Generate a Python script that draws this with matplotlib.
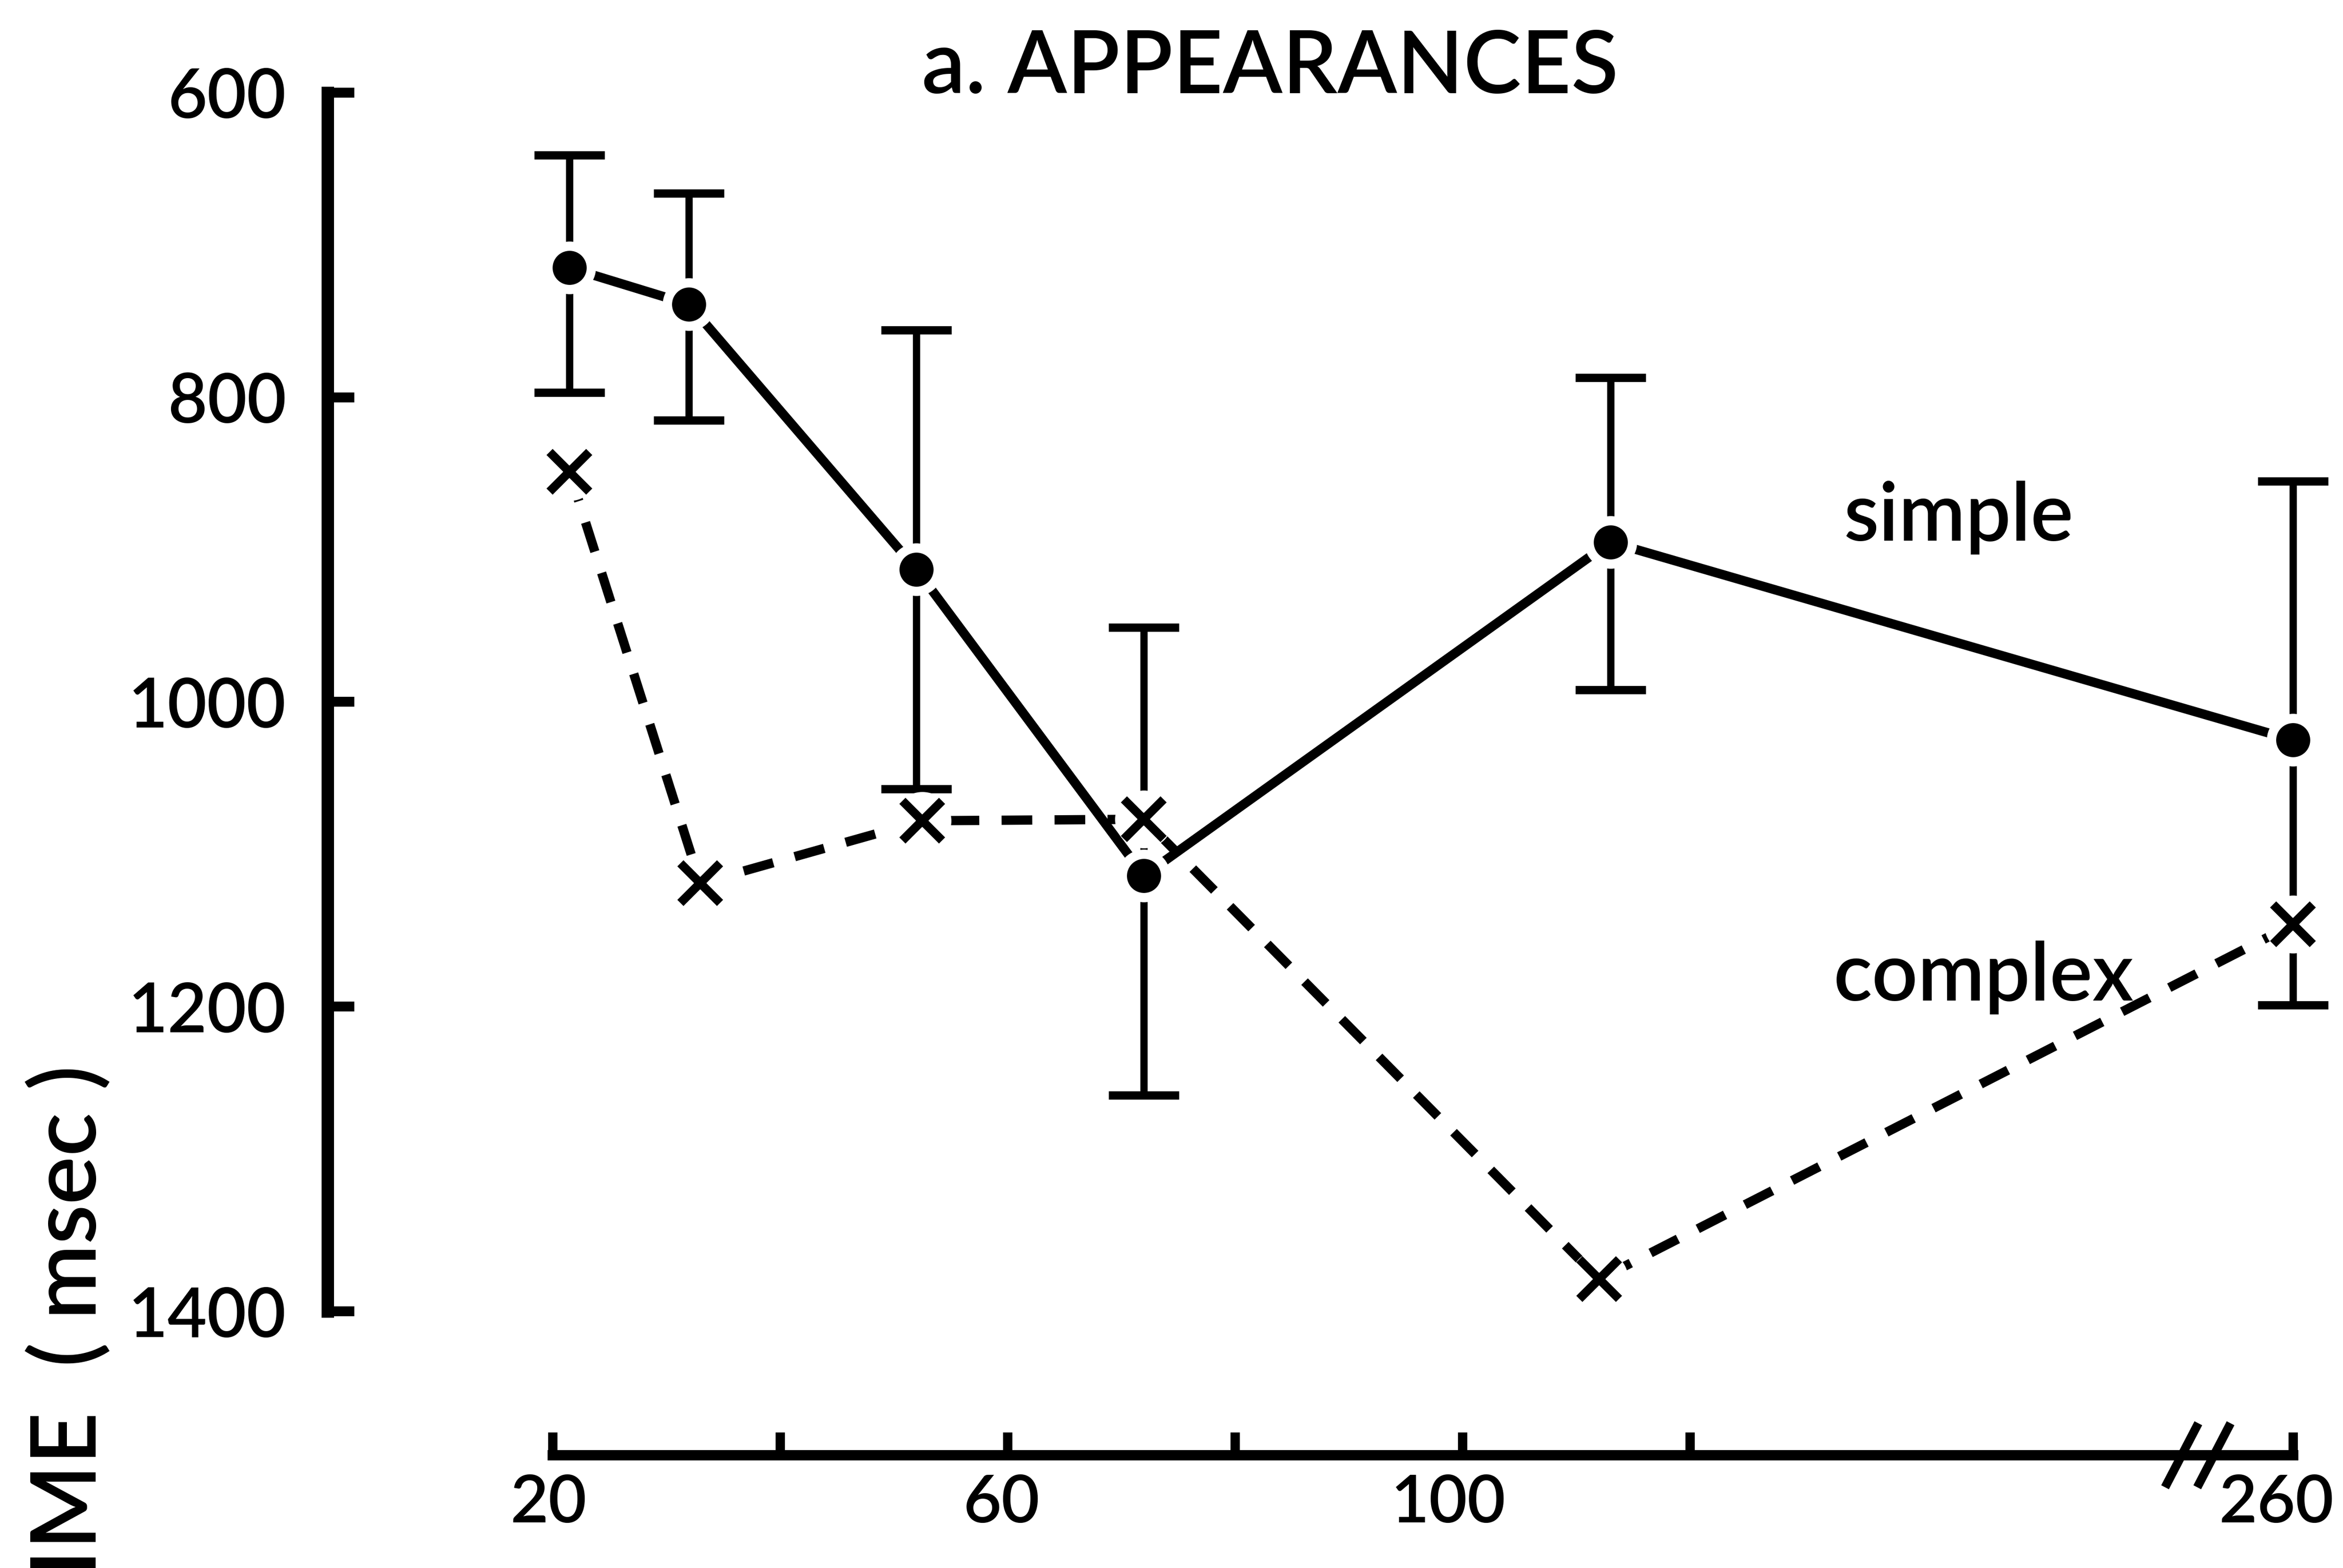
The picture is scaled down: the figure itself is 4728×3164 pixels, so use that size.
import numpy as np
import matplotlib.pyplot as plt
from matplotlib.path import Path
from matplotlib.transforms import ScaledTranslation

# duration (msec) vs mean time (msec)
simple_x = [21.5, 32, 52, 72, 113, 260]
simple_y = [715, 739, 913, 1114, 895, 1025]
simple_top = [641, 666, 756, 951, 787, 855]      # upper end of bar (axis is inverted)
simple_bottom = [797, 815, 1057, 1258, 992, 1199]

complex_x = [21.5, 33, 52.5, 72, 112, 260]
complex_y = [849, 1119, 1078, 1077, 1379, 1146]

xticks = [20, 40, 60, 80, 100, 120, 260]
xticklabels = ["20", "", "60", "", "100", "", "260"]
yticks = [600, 800, 1000, 1200, 1400]

plt.rcParams['font.family'] = ['Lato', 'DejaVu Sans']
plt.rcParams['font.weight'] = 'semibold'


# squeeze everything past 140 so 260 sits just after the break
def fwd(x):
    x = np.asarray(x, dtype=float)
    return np.where(x <= 140, x, 140 + (x - 140) * 0.275)


def inv(p):
    p = np.asarray(p, dtype=float)
    return np.where(p <= 140, p, 140 + (p - 140) / 0.275)


fig = plt.figure(figsize=(15.76, 10.547), dpi=300)
ax = fig.add_axes([0.1398, 0.1637, 0.8602, 0.7772])
ax.set_xscale('function', functions=(fwd, inv))
ax.set_xlim(0.23, 276)
ax.set_ylim(1400, 600)

sy = np.array(simple_y)
yerr = [sy - np.array(simple_top), np.array(simple_bottom) - sy]
ax.errorbar(simple_x, simple_y, yerr=yerr, fmt='none', ecolor='black',
            elinewidth=3.5, capsize=17, capthick=4, zorder=2, clip_on=False)

ax.plot(simple_x, simple_y, '-', color='black', lw=4.5, zorder=2, clip_on=False)
ax.plot(complex_x, complex_y, '--', color='black', lw=4.5, dashes=(3.3, 2.4),
        zorder=2, clip_on=False)
# white halo so lines stop short of the x's, like the original
ax.plot(complex_x, complex_y, 'o', ms=27, color='white', mec='white',
        zorder=3, clip_on=False)
ax.plot(complex_x, complex_y, 'x', ms=19, mew=4.2, color='black', zorder=4, clip_on=False)
ax.plot(simple_x, simple_y, 'o', ms=21, mfc='black', mec='white', mew=4.5,
        zorder=5, clip_on=False)

ax.text(133.5, 894, "simple", fontsize=39, ha='left', va='baseline')
ax.text(132.6, 1196, "complex", fontsize=39, ha='left', va='baseline')

for s in ['top', 'right']:
    ax.spines[s].set_visible(False)
ax.spines['left'].set_bounds(600, 1400)
ax.spines['left'].set_linewidth(6)
ax.spines['bottom'].set_position(('outward', 69.6))
ax.spines['bottom'].set_bounds(20, 260)
ax.spines['bottom'].set_linewidth(5)

ax.set_xticks(xticks)
ax.set_xticklabels(xticklabels)
ax.set_yticks(yticks)
ax.tick_params(axis='x', direction='in', length=11, width=4.5, pad=9, labelsize=32)
ax.tick_params(axis='y', direction='in', length=13, width=4.8, pad=20, labelsize=33)
ax.minorticks_off()

# labels sit a little left of their ticks in the original
for lab, dx in zip(ax.get_xticklabels(), [-2, 0, -3, 0, -7, 0, -8]):
    lab.set_transform(lab.get_transform() + ScaledTranslation(dx / 72, 0, fig.dpi_scale_trans))

# axis break marks
slash = Path([(-0.52, -1), (0.52, 1)], [Path.MOVETO, Path.LINETO])
tr = ax.get_xaxis_transform() + ScaledTranslation(0, -69.6 / 72, fig.dpi_scale_trans)
brk_x = inv(fwd(229.5) + np.array([-1.4, 1.4]))
ax.plot(brk_x, [0, 0], linestyle='none', marker=slash, ms=31, mew=4.2,
        color='black', transform=tr, clip_on=False)

fig.text(0.5421, 0.9406, "a. APPEARANCES", fontsize=42, ha='center', va='baseline')
fig.text(0.0294, 0.3207, "TIME  ( msec )", fontsize=44, rotation=90,
         ha='center', va='top')

fig.savefig('out.png', dpi=300)
